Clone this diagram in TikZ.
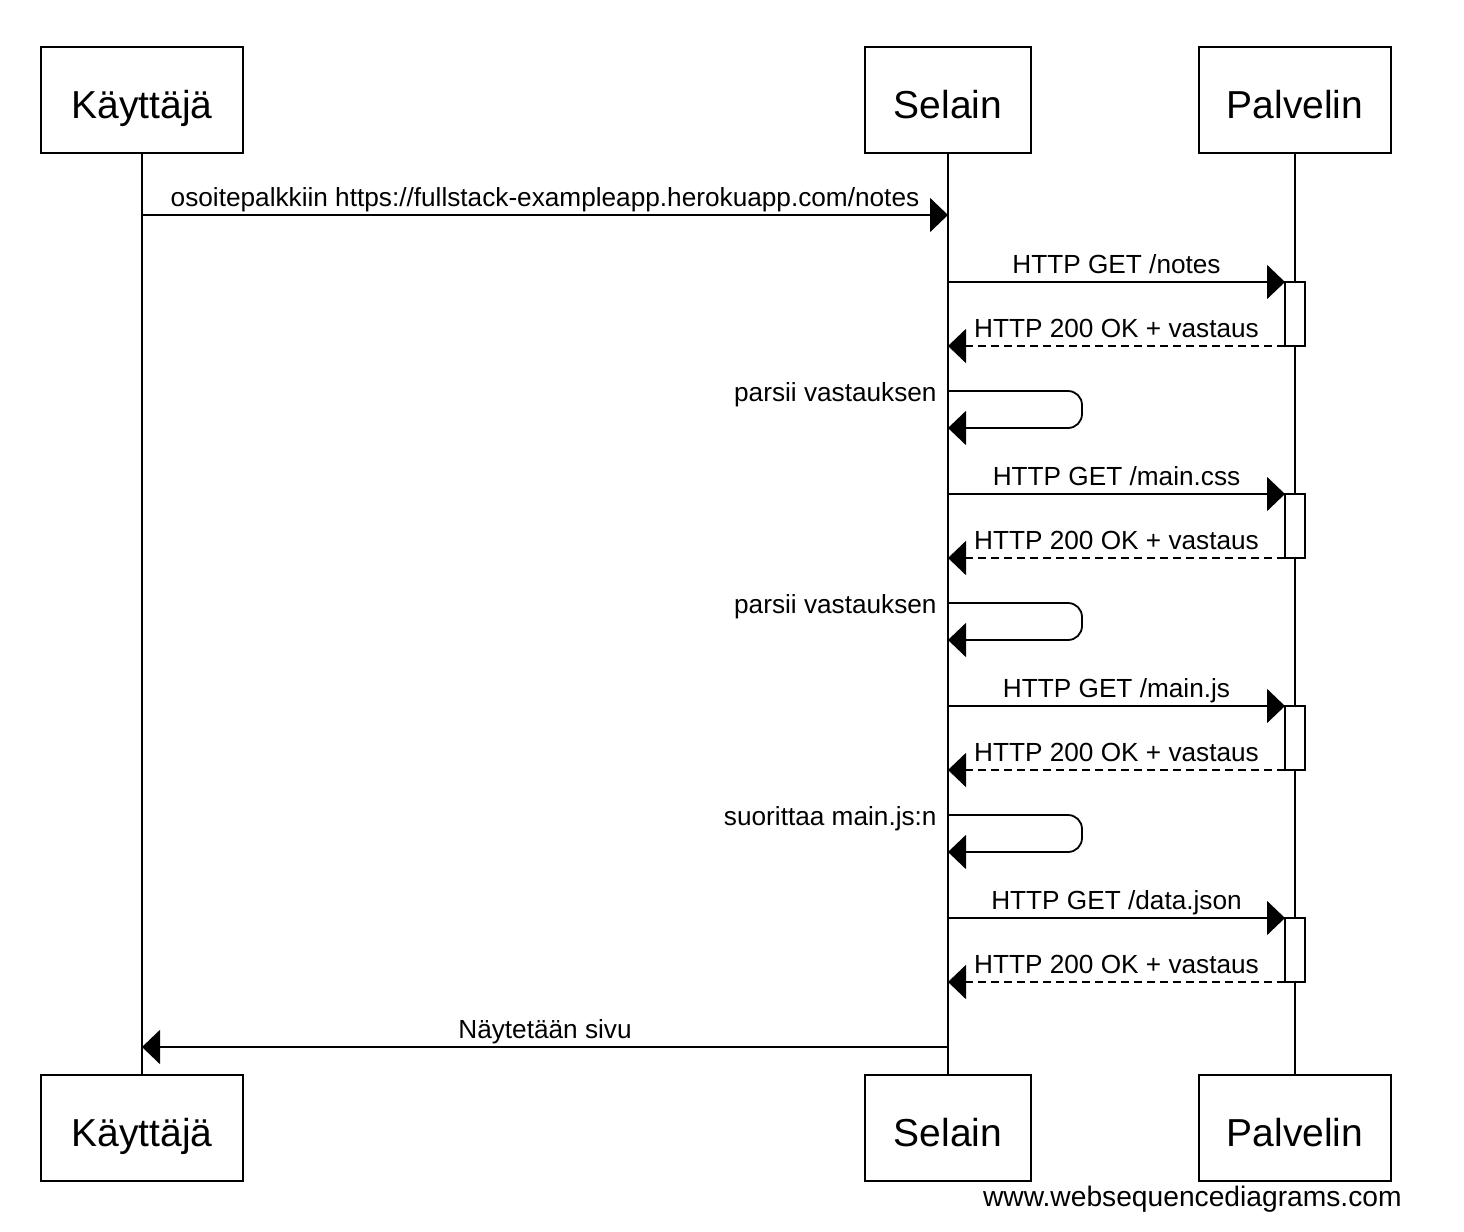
\documentclass[tikz,border=0pt]{standalone}
\usepackage{fontspec}
\setmainfont{Liberation Sans}
\usetikzlibrary{arrows.meta}

\tikzset{
  actor/.style={draw, line width=0.9pt, minimum height=53pt, inner sep=0pt,
    text height=22pt, text depth=4pt, font=\fontsize{19.5}{22}\selectfont},
  actbox/.style={draw, fill=white, line width=0.9pt, minimum width=10pt,
    minimum height=32pt, inner sep=0pt, outer sep=0pt},
  lifeline/.style={line width=0.9pt},
  msg/.style={line width=0.9pt, -{Triangle[length=9pt,width=17pt]}},
  reply/.style={msg, dash pattern=on 4pt off 2.5pt},
  lbl/.style={font=\fontsize{13.1}{15}\selectfont, anchor=base, inner sep=0pt,
    yshift=4.5pt},
  looplbl/.style={font=\fontsize{13.1}{15}\selectfont, anchor=base east, inner sep=0pt},
}

\begin{document}
\begin{tikzpicture}[x=0.5pt, y=-0.5pt]
            \useasboundingbox (0,0) rectangle (1464,1232);

            % osapuolet
            \node[actor, minimum width=101pt] (kayttaja) at (142,100) {Käyttäjä};
            \node[actor, minimum width=83pt] (selain) at (948,100) {Selain};
            \node[actor, minimum width=96pt] (palvelin) at (1295,100) {Palvelin};
            \node[actor, minimum width=101pt] (kayttaja_b) at (142,1128) {Käyttäjä};
            \node[actor, minimum width=83pt] (selain_b) at (948,1128) {Selain};
            \node[actor, minimum width=96pt] (palvelin_b) at (1295,1128) {Palvelin};

            \draw[lifeline] (kayttaja) -- (kayttaja_b);
            \draw[lifeline] (selain) -- (selain_b);
            \draw[lifeline] (palvelin) -- (palvelin_b);

            % pisteet elamanviivoilla
            \coordinate (k_1) at (142,215);
            \coordinate (s_1) at (948,215);
            \coordinate (s_2) at (948,282);
            \coordinate (s_3) at (948,346);
            \coordinate (s_4) at (948,391);
            \coordinate (s_5) at (948,428);
            \coordinate (s_6) at (948,494);
            \coordinate (s_7) at (948,558);
            \coordinate (s_8) at (948,603);
            \coordinate (s_9) at (948,640);
            \coordinate (s_10) at (948,706);
            \coordinate (s_11) at (948,770);
            \coordinate (s_12) at (948,815);
            \coordinate (s_13) at (948,852);
            \coordinate (s_14) at (948,918);
            \coordinate (s_15) at (948,982);
            \coordinate (s_16) at (948,1047);
            \coordinate (k_2) at (142,1047);

            % aktivaatiot
            \node[actbox] (act_1) at (1295,314) {};
            \node[actbox] (act_2) at (1295,526) {};
            \node[actbox] (act_3) at (1295,738) {};
            \node[actbox] (act_4) at (1295,950) {};

            % viestit
            \draw[msg] (k_1) -- (s_1)
                node[lbl, midway] {osoitepalkkiin https://fullstack-exampleapp.herokuapp.com/notes};

            \draw[msg] (s_2) -- (act_1.north west) node[lbl, midway] {HTTP GET /notes};
            \draw[reply] (act_1.south west) -- (s_3) node[lbl, midway] {HTTP 200 OK + vastaus};
            \draw[msg, rounded corners=7pt] (s_4) -- ++(134,0) |- (s_5);
            \node[looplbl] (parse_1) at (937,401) {parsii vastauksen};

            \draw[msg] (s_6) -- (act_2.north west) node[lbl, midway] {HTTP GET /main.css};
            \draw[reply] (act_2.south west) -- (s_7) node[lbl, midway] {HTTP 200 OK + vastaus};
            \draw[msg, rounded corners=7pt] (s_8) -- ++(134,0) |- (s_9);
            \node[looplbl] (parse_2) at (937,613) {parsii vastauksen};

            \draw[msg] (s_10) -- (act_3.north west) node[lbl, midway] {HTTP GET /main.js};
            \draw[reply] (act_3.south west) -- (s_11) node[lbl, midway] {HTTP 200 OK + vastaus};
            \draw[msg, rounded corners=7pt] (s_12) -- ++(134,0) |- (s_13);
            \node[looplbl] (exec_js) at (937,825) {suorittaa main.js:n};

            \draw[msg] (s_14) -- (act_4.north west) node[lbl, midway] {HTTP GET /data.json};
            \draw[reply] (act_4.south west) -- (s_15) node[lbl, midway] {HTTP 200 OK + vastaus};

            \draw[msg] (s_16) -- (k_2) node[lbl, midway] {Näytetään sivu};

            \node[font=\fontsize{14.1}{16}\selectfont, anchor=base east, inner sep=0pt]
                (credit) at (1402,1206) {www.websequencediagrams.com};
        \end{tikzpicture}
\end{document}
